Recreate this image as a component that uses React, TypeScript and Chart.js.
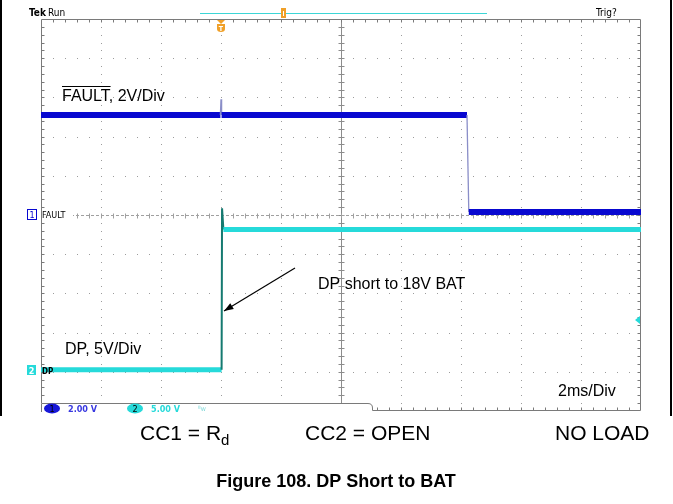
import React, { useEffect, useRef } from 'react';
import { Chart, registerables } from 'chart.js';
Chart.register(...registerables);

// ---- data (time in ms, 2 ms/div; trigger at t = 0) ----
const timeRangeMs = [-6, 14];
const faultTimeMs = [-6, -0.02, 0, 0.02, 8.2, 8.26, 14];
const faultVolts = [5.1, 5.1, 5.9, 5.1, 5.1, 0.15, 0.15];
const dpTimeMs = [-6, 0.02, 0.035, 0.08, 14];
const dpVolts = [0, 0, 20.6, 17.9, 17.9];
// channel settings: [volts/div, ground position in divisions from bottom]
const faultChannel = [2, 5];
const dpChannel = [5, 1.05];
const divisions = 10;

const FONT = '"Liberation Sans", Arial, sans-serif';
const SCOPE_FONT = '"DejaVu Sans Condensed", "DejaVu Sans", sans-serif';
const BLUE = '#0808d0';
const CYAN = '#26dada';
const ORANGE = '#f0a028';

function rangeFor(ch: number[]) {
  return { min: -ch[1] * ch[0], max: (divisions - ch[1]) * ch[0] };
}

const gridPlugin = {
  id: 'scopeGrid',
  beforeDatasetsDraw(chart: any) {
    const { ctx, chartArea: a } = chart;
    const dx = (a.right - a.left) / 10;
    const dy = (a.bottom - a.top) / 10;
    ctx.save();
    ctx.fillStyle = '#9c9c9c';
    for (let j = 1; j < 10; j++) {
      if (j === 5) continue;
      const y = Math.round(a.top + j * dy);
      for (let i = 1; i < 50; i++) {
        const x = Math.round(a.left + (i * dx) / 5);
        ctx.fillRect(x, y, 1, 1);
      }
    }
    for (let i = 1; i < 10; i++) {
      if (i === 5) continue;
      const x = Math.round(a.left + i * dx);
      for (let j = 1; j < 50; j++) {
        const y = Math.round(a.top + (j * dy) / 5);
        ctx.fillRect(x, y, 1, 1);
      }
    }
    // center crosshair
    const cx = Math.round(a.left + 5 * dx) + 0.5;
    const cy = Math.round(a.top + 5 * dy) + 0.5;
    ctx.strokeStyle = '#8c8c8c';
    ctx.lineWidth = 1;
    ctx.beginPath();
    ctx.moveTo(cx, a.top);
    ctx.lineTo(cx, a.bottom);
    for (let j = 1; j < 50; j++) {
      const y = Math.round(a.top + (j * dy) / 5) + 0.5;
      ctx.moveTo(cx - 3, y);
      ctx.lineTo(cx + 3, y);
    }
    ctx.stroke();
    ctx.strokeStyle = '#a0a0a0';
    ctx.setLineDash([3, 2]);
    ctx.beginPath();
    ctx.moveTo(a.left, cy);
    ctx.lineTo(a.right, cy);
    ctx.stroke();
    ctx.setLineDash([]);
    ctx.beginPath();
    for (let i = 1; i < 50; i++) {
      const x = Math.round(a.left + (i * dx) / 5) + 0.5;
      ctx.moveTo(x, cy - 2);
      ctx.lineTo(x, cy + 3);
    }
    ctx.stroke();
    // border with ticks
    ctx.strokeStyle = '#7a7a7a';
    ctx.beginPath();
    const L = a.left + 0.5, R = a.right - 0.5, T = a.top + 0.5, B = a.bottom - 0.5;
    ctx.moveTo(L, T); ctx.lineTo(R, T); ctx.lineTo(R, B); ctx.lineTo(L, B); ctx.closePath();
    for (let i = 1; i < 50; i++) {
      const x = Math.round(a.left + (i * dx) / 5) + 0.5;
      ctx.moveTo(x, T); ctx.lineTo(x, T + 3);
      ctx.moveTo(x, B); ctx.lineTo(x, B - 3);
    }
    for (let j = 1; j < 50; j++) {
      const y = Math.round(a.top + (j * dy) / 5) + 0.5;
      ctx.moveTo(L, y); ctx.lineTo(L + 3, y);
      ctx.moveTo(R, y); ctx.lineTo(R - 3, y);
    }
    ctx.stroke();
    ctx.restore();
  },
};

function text(ctx: CanvasRenderingContext2D, s: string, x: number, y: number, font: string, color: string, align: CanvasTextAlign = 'left') {
  ctx.font = font;
  ctx.fillStyle = color;
  ctx.textAlign = align;
  ctx.textBaseline = 'alphabetic';
  ctx.fillText(s, x, y);
}

const overlayPlugin = {
  id: 'scopeOverlay',
  afterDatasetsDraw(chart: any) {
    const { ctx, chartArea: a } = chart;
    const xs = chart.scales.x;
    ctx.save();
    // screenshot frame
    ctx.strokeStyle = '#000';
    ctx.lineWidth = 2;
    ctx.beginPath();
    ctx.moveTo(1, 0); ctx.lineTo(1, 416);
    ctx.moveTo(671, 0); ctx.lineTo(671, 416);
    ctx.stroke();

    // top status line
    text(ctx, 'Tek', 29, 16, `bold 10px ${SCOPE_FONT}`, '#000');
    text(ctx, 'Run', 48, 16, `10px ${SCOPE_FONT}`, '#000');
    text(ctx, 'Trig?', 596, 16, `10px ${SCOPE_FONT}`, '#000');
    ctx.strokeStyle = '#3cd6d6';
    ctx.lineWidth = 1;
    ctx.beginPath();
    ctx.moveTo(200, 13.5); ctx.lineTo(487, 13.5);
    ctx.stroke();
    ctx.fillStyle = ORANGE;
    ctx.fillRect(281, 8, 5, 10);
    ctx.fillStyle = '#fff';
    ctx.fillRect(283, 11, 1, 5);

    // trigger position marker
    const tx = Math.round(xs.getPixelForValue(0));
    ctx.fillStyle = ORANGE;
    ctx.beginPath();
    ctx.moveTo(tx - 4, 20); ctx.lineTo(tx + 4, 20); ctx.lineTo(tx, 24); ctx.closePath();
    ctx.fill();
    ctx.beginPath();
    ctx.moveTo(tx - 4, 24); ctx.lineTo(tx + 4, 24); ctx.lineTo(tx + 4, 29);
    ctx.quadraticCurveTo(tx + 4, 32, tx, 32);
    ctx.quadraticCurveTo(tx - 4, 32, tx - 4, 29);
    ctx.closePath();
    ctx.fill();
    text(ctx, 'T', tx, 31, `bold 7px ${SCOPE_FONT}`, '#fff', 'center');

    // channel markers
    ctx.strokeStyle = BLUE;
    ctx.lineWidth = 1;
    ctx.strokeRect(27.5, 209.5, 9, 10);
    text(ctx, '1', 32, 218, `9px ${SCOPE_FONT}`, BLUE, 'center');
    ctx.fillStyle = '#fff';
    ctx.fillRect(42, 210, 31, 9);
    text(ctx, 'FAULT', 42, 218, `9px ${SCOPE_FONT}`, '#000');
    ctx.fillStyle = CYAN;
    ctx.fillRect(27, 365, 9, 10);
    text(ctx, '2', 31.5, 374, `bold 9px ${SCOPE_FONT}`, '#fff', 'center');
    text(ctx, 'DP', 42, 374, `bold 8px ${SCOPE_FONT}`, '#000');
    // trigger level marker
    ctx.fillStyle = CYAN;
    ctx.beginPath();
    ctx.moveTo(635, 320); ctx.lineTo(640, 316); ctx.lineTo(640, 324); ctx.closePath();
    ctx.fill();

    // annotations
    text(ctx, 'FAULT, 2V/Div', 62, 101, `16px ${FONT}`, '#000');
    ctx.font = `16px ${FONT}`;
    const fw = ctx.measureText('FAULT').width;
    ctx.strokeStyle = '#000';
    ctx.lineWidth = 1;
    ctx.beginPath();
    ctx.moveTo(62, 86.5); ctx.lineTo(62 + fw, 86.5);
    ctx.stroke();
    text(ctx, 'DP short to 18V BAT', 318, 289, `16px ${FONT}`, '#000');
    text(ctx, 'DP, 5V/Div', 65, 354, `16px ${FONT}`, '#000');
    text(ctx, '2ms/Div', 558, 396, `16px ${FONT}`, '#000');
    // arrow
    const ax0 = 295, ay0 = 268, ax1 = 224, ay1 = 311;
    ctx.strokeStyle = '#000';
    ctx.lineWidth = 1.2;
    ctx.beginPath();
    ctx.moveTo(ax0, ay0); ctx.lineTo(ax1, ay1);
    ctx.stroke();
    const ang = Math.atan2(ay1 - ay0, ax1 - ax0);
    ctx.fillStyle = '#000';
    ctx.beginPath();
    ctx.moveTo(ax1, ay1);
    ctx.lineTo(ax1 - 10 * Math.cos(ang - 0.35), ay1 - 10 * Math.sin(ang - 0.35));
    ctx.lineTo(ax1 - 10 * Math.cos(ang + 0.35), ay1 - 10 * Math.sin(ang + 0.35));
    ctx.closePath();
    ctx.fill();

    // bottom status tab
    ctx.fillStyle = '#fff';
    ctx.fillRect(a.left - 1, 403, 373 - a.left + 1, 14);
    ctx.strokeStyle = '#7a7a7a';
    ctx.lineWidth = 1;
    ctx.beginPath();
    ctx.moveTo(a.left + 0.5, 403.5); ctx.lineTo(368, 403.5);
    ctx.quadraticCurveTo(372.5, 403.5, 372.5, 408);
    ctx.lineTo(372.5, 410.5); ctx.lineTo(376, 410.5);
    ctx.moveTo(a.left + 0.5, 403.5); ctx.lineTo(a.left + 0.5, 412);
    ctx.stroke();
    ctx.fillStyle = '#1818d8';
    ctx.beginPath();
    ctx.ellipse(52, 408.5, 8, 5, 0, 0, Math.PI * 2);
    ctx.fill();
    text(ctx, '1', 52, 412, `9px ${SCOPE_FONT}`, '#000', 'center');
    text(ctx, '2.00 V', 68, 412, `bold 9px ${SCOPE_FONT}`, '#3838e0');
    ctx.fillStyle = CYAN;
    ctx.beginPath();
    ctx.ellipse(135, 408.5, 8, 5, 0, 0, Math.PI * 2);
    ctx.fill();
    text(ctx, '2', 135, 412, `9px ${SCOPE_FONT}`, '#000', 'center');
    text(ctx, '5.00 V', 151, 412, `bold 9px ${SCOPE_FONT}`, CYAN);
    text(ctx, 'ᴮw', 198, 411, `7px ${SCOPE_FONT}`, '#7fd8d8');

    // captions below the capture
    text(ctx, 'CC1 = R', 140, 440, `21px ${FONT}`, '#000');
    ctx.font = `21px ${FONT}`;
    const cw = ctx.measureText('CC1 = R').width;
    text(ctx, 'd', 140 + cw, 445, `15px ${FONT}`, '#000');
    text(ctx, 'CC2 = OPEN', 305, 440, `21px ${FONT}`, '#000');
    text(ctx, 'NO LOAD', 555, 440, `21px ${FONT}`, '#000');
    text(ctx, 'Figure 108. DP Short to BAT', 336, 487, `bold 18px ${FONT}`, '#000', 'center');
    ctx.restore();
  },
};

function trace(times: number[], volts: number[], axis: string, color: string, edge: string, w: number, ew: number) {
  return {
    data: times.map((t, i) => ({ x: t, y: volts[i] })),
    xAxisID: 'x',
    yAxisID: axis,
    borderColor: color,
    borderWidth: w,
    borderCapStyle: 'butt',
    pointRadius: 0,
    tension: 0,
    fill: false,
    segment: {
      borderWidth: (c: any) => (c.p0.parsed.y === c.p1.parsed.y ? w : ew),
      borderColor: (c: any) => (c.p0.parsed.y === c.p1.parsed.y ? color : edge),
    },
  };
}

export default function App() {
  const ref = useRef<HTMLCanvasElement>(null);
  useEffect(() => {
    const canvas = ref.current!;
    const chart = new Chart(canvas, {
      type: 'line',
      data: {
        datasets: [
          trace(faultTimeMs, faultVolts, 'yF', BLUE, '#8a8ec8', 6, 1.3) as any,
          trace(dpTimeMs, dpVolts, 'yD', CYAN, '#157a70', 5, 2) as any,
        ],
      },
      options: {
        animation: false,
        responsive: false,
        maintainAspectRatio: false,
        events: [],
        layout: { padding: { left: 41, top: 19, right: 32, bottom: 93 } },
        scales: {
          x: { type: 'linear', min: timeRangeMs[0], max: timeRangeMs[1], display: false },
          yF: { type: 'linear', axis: 'y', ...rangeFor(faultChannel), display: false },
          yD: { type: 'linear', axis: 'y', ...rangeFor(dpChannel), display: false },
        },
        plugins: { legend: { display: false }, tooltip: { enabled: false } },
      } as any,
      plugins: [gridPlugin, overlayPlugin],
    });
    return () => chart.destroy();
  }, []);
  return (
    <div style={{ position: 'absolute', left: 0, top: 0, width: 673, height: 504, background: '#fff' }}>
      <canvas ref={ref} width={673} height={504} style={{ display: 'block' }} />
    </div>
  );
}
